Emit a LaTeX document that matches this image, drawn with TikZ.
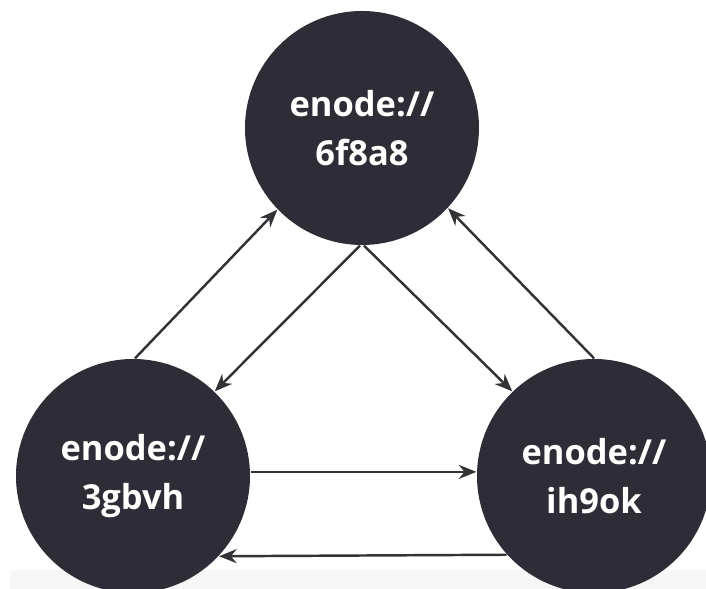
\documentclass[tikz,border=0pt]{standalone}
\usepackage{xcolor}
\usepackage{fontspec}
\setsansfont{Open Sans}
\usepackage{tikz}
\usetikzlibrary{arrows.meta,positioning}

\definecolor{nodedark}{RGB}{46,45,55}
\definecolor{linedark}{RGB}{50,50,55}
\definecolor{stripgray}{RGB}{246,246,247}

\begin{document}
\begin{tikzpicture}[
    peer/.style={circle, fill=nodedark, minimum size=2.34cm, inner sep=0pt, align=center, text=white, font=\sffamily\bfseries\fontsize{9.8}{14}\selectfont},
    arrow/.style={-{Stealth[length=5pt, width=4pt]}, line width=0.7pt, draw=linedark, fill=linedark}
]
\clip (0,0) rectangle (7.06,5.89);

% background strip
\fill[stripgray] (0.1,0) rectangle (7.06,0.19);

% Peers
\node[peer] (top) at (3.62,4.61) {enode://\\6f8a8};
\node[peer] (left) at (1.33,1.13) {enode://\\3gbvh};
\node[peer] (right) at (5.94,1.13) {enode://\\ih9ok};

% Arrows
\draw[arrow] (left.89) -- (top.224);
\draw[arrow] (top.269) -- (left.46);
\draw[arrow] (top.271) -- (right.134);
\draw[arrow] (right.90) -- (top.317);
\draw[arrow] (left.2) -- (right.178);
\draw[arrow] (right.222.5) -- (left.317.5);

\end{tikzpicture}
\end{document}
